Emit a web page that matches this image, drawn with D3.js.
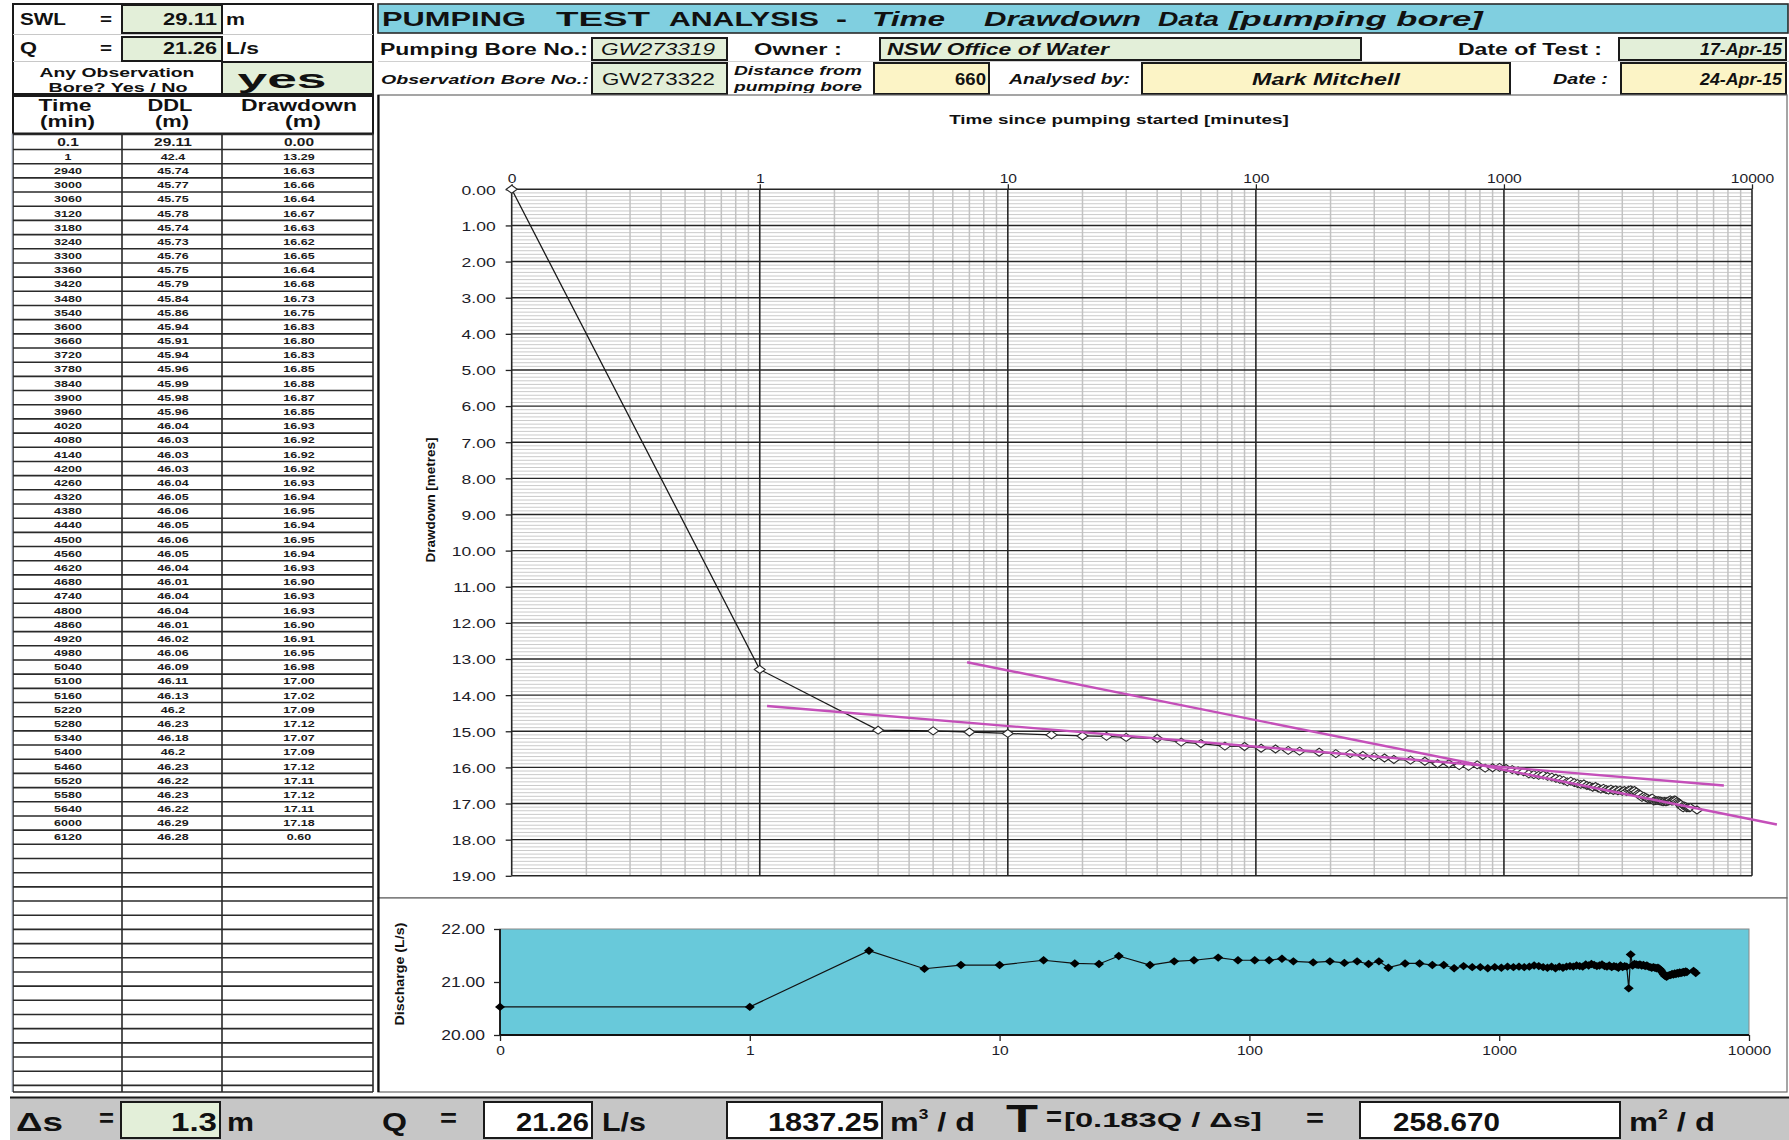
<!DOCTYPE html>
<html>
<head>
<meta charset="utf-8">
<script src="https://cdn.jsdelivr.net/npm/d3@7"></script>
<style>
  html, body { margin: 0; padding: 0; background: #fff; }
  svg { display: block; }
</style>
</head>
<body>
<svg id="sheet" width="1789" height="1140"></svg>
<script>
// ---------------- data ----------------
// Visible rows of the readings table
const tableTime = [0.1, 1, 2940, 3000, 3060, 3120, 3180, 3240, 3300, 3360, 3420, 3480, 3540, 3600, 3660, 3720, 3780, 3840, 3900, 3960, 4020, 4080, 4140, 4200, 4260, 4320, 4380, 4440, 4500, 4560, 4620, 4680, 4740, 4800, 4860, 4920, 4980, 5040, 5100, 5160, 5220, 5280, 5340, 5400, 5460, 5520, 5580, 5640, 6000, 6120];
const tableDDL = [29.11, 42.4, 45.74, 45.77, 45.75, 45.78, 45.74, 45.73, 45.76, 45.75, 45.79, 45.84, 45.86, 45.94, 45.91, 45.94, 45.96, 45.99, 45.98, 45.96, 46.04, 46.03, 46.03, 46.03, 46.04, 46.05, 46.06, 46.05, 46.06, 46.05, 46.04, 46.01, 46.04, 46.04, 46.01, 46.02, 46.06, 46.09, 46.11, 46.13, 46.2, 46.23, 46.18, 46.2, 46.23, 46.22, 46.23, 46.22, 46.29, 46.28];
const tableDrawdown = [0.00, 13.29, 16.63, 16.66, 16.64, 16.67, 16.63, 16.62, 16.65, 16.64, 16.68, 16.73, 16.75, 16.83, 16.80, 16.83, 16.85, 16.88, 16.87, 16.85, 16.93, 16.92, 16.92, 16.92, 16.93, 16.94, 16.95, 16.94, 16.95, 16.94, 16.93, 16.90, 16.93, 16.93, 16.90, 16.91, 16.95, 16.98, 17.00, 17.02, 17.09, 17.12, 17.07, 17.09, 17.12, 17.11, 17.12, 17.11, 17.18, 0.60];

// Readings between 1 min and 2940 min (rows hidden in the table, still plotted)
const hiddenTime = [3, 5, 7, 10, 15, 20, 25, 30, 40, 50, 60, 75, 90, 105, 120, 135, 150, 180, 210, 240, 270, 300, 330, 360, 420, 480, 540, 600, 660, 720, 780, 840, 900, 960,
  1020, 1080, 1140, 1200, 1260, 1320, 1380, 1440, 1500, 1560, 1620, 1680, 1740, 1800, 1860, 1920, 1980, 2040, 2100, 2160, 2220, 2280, 2340, 2400, 2460, 2520, 2580, 2640, 2700, 2760, 2820, 2880];
const hiddenDrawdown = [14.97, 14.99, 15.02, 15.06, 15.10, 15.13, 15.14, 15.17, 15.20, 15.30, 15.34, 15.41, 15.42, 15.47, 15.49, 15.53, 15.55, 15.58, 15.62, 15.62, 15.67, 15.71, 15.74, 15.78, 15.80, 15.83, 15.90, 15.90, 15.95, 15.97, 15.93, 16.02, 16.01, 16.00,
  16.03, 16.06, 16.10, 16.12, 16.18, 16.20, 16.22, 16.21, 16.25, 16.27, 16.30, 16.33, 16.36, 16.40, 16.38, 16.42, 16.45, 16.47, 16.46, 16.50, 16.52, 16.55, 16.53, 16.57, 16.60, 16.58, 16.61, 16.63, 16.60, 16.64, 16.62, 16.65];

// Discharge (L/s) for every reading, in time order
const discharge = [20.53, 20.53,
  21.59, 21.25, 21.32, 21.32, 21.41, 21.35, 21.34, 21.49, 21.32, 21.39, 21.41, 21.46, 21.41, 21.41, 21.41, 21.44, 21.39, 21.37, 21.39, 21.36, 21.39, 21.34, 21.39, 21.27, 21.35, 21.35, 21.32, 21.32, 21.26, 21.30, 21.28, 21.28, 21.26, 21.28,
  21.27, 21.29, 21.28, 21.29, 21.28, 21.29, 21.31, 21.30, 21.28, 21.27, 21.29, 21.26, 21.29, 21.27, 21.29, 21.30, 21.29, 21.31, 21.30, 21.29, 21.33, 21.31, 21.34, 21.32, 21.30, 21.31, 21.33, 21.30, 21.29, 21.31, 21.28, 21.30,
  21.29, 21.27, 21.31, 21.28, 21.30, 21.29, 20.88, 21.52, 21.31, 21.34, 21.33, 21.32, 21.33, 21.31, 21.32, 21.30, 21.31, 21.29, 21.28, 21.27, 21.28, 21.27, 21.26, 21.27, 21.25, 21.22, 21.18, 21.14, 21.11, 21.10, 21.12, 21.13, 21.13, 21.15, 21.14, 21.16, 21.15, 21.17, 21.16, 21.18, 21.17, 21.18, 21.19, 21.18, 21.20, 21.19, 21.21, 21.17];

// Straight-line fits drawn on the semi-log plot (time in min, drawdown in m)
const fitEarlyTime = [1.07, 7700];
const fitEarlyDrawdown = [14.30, 16.50];
const fitLateTime = [6.85, 12600];
const fitLateDrawdown = [13.09, 17.58];

// Axis ticks
const timeTicks = [0.1, 1, 10, 100, 1000, 10000];
const timeTickLabels = ["0", "1", "10", "100", "1000", "10000"];
const drawdownTicks = d3.range(0, 20);
const dischargeTicks = [20, 21, 22];

// Header / summary values
const swl = "29.11";
const pumpQ = "21.26";
const obsBore = "yes";
const pumpingBoreNo = "GW273319";
const observationBoreNo = "GW273322";
const owner = "NSW Office of Water";
const testDate = "17-Apr-15";
const distance = "660";
const analyst = "Mark Mitchell";
const analysisDate = "24-Apr-15";
const deltaS = "1.3";
const qDaily = "1837.25";
const transmissivity = "258.670";

// ---------------- helpers ----------------
const FONT = "'Liberation Sans', Arial, Helvetica, sans-serif";
const svg = d3.select("#sheet");
const defs = svg.append("defs");

function txt(parent, str, x, y, o = {}) {
  const g = parent.append("g")
    .attr("transform", `translate(${x},${y})` + (o.rotate ? ` rotate(${o.rotate})` : ""));
  if (o.clip) g.attr("clip-path", o.clip);
  const t = g.append("text")
    .attr("font-family", FONT)
    .attr("font-size", o.size || 14)
    .attr("font-weight", o.weight || "normal")
    .attr("font-style", o.style || "normal")
    .attr("text-anchor", o.anchor || "start")
    .attr("fill", o.fill || "#111")
    .text(str);
  let sx = o.sx || 1;
  if (o.width) {
    const w = t.node().getComputedTextLength();
    if (w > 0) sx = o.width / w;
  }
  t.attr("transform", `scale(${sx},1)`);
  return t;
}

function box(parent, x, y, w, h, fill, stroke = "#1a1a1a", sw = 2) {
  return parent.append("rect").attr("x", x).attr("y", y).attr("width", w).attr("height", h)
    .attr("fill", fill).attr("stroke", stroke).attr("stroke-width", sw);
}

function hline(parent, x1, x2, y, stroke, sw) {
  parent.append("line").attr("x1", x1).attr("x2", x2).attr("y1", y).attr("y2", y)
    .attr("stroke", stroke).attr("stroke-width", sw);
}
function vline(parent, x, y1, y2, stroke, sw) {
  parent.append("line").attr("x1", x).attr("x2", x).attr("y1", y1).attr("y2", y2)
    .attr("stroke", stroke).attr("stroke-width", sw);
}

const GREEN = "#e3efd9";
const YELLOW = "#fcf4c6";

svg.append("rect").attr("width", 1789).attr("height", 1140).attr("fill", "#fff");

// ---------------- top-left block ----------------
const tl = svg.append("g");
box(tl, 13, 4, 360, 90, "#fff", "#1a1a1a", 2);
hline(tl, 13, 373, 34.5, "#c8c8c8", 1);
hline(tl, 13, 122, 61.5, "#c8c8c8", 1);
box(tl, 122, 5, 100, 28, GREEN);
box(tl, 122, 37, 100, 24, GREEN);
box(tl, 222, 62, 151, 32, GREEN);

txt(tl, "SWL", 20, 25, { size: 16, weight: "bold", width: 46 });
txt(tl, "=", 100, 25, { size: 16, weight: "bold", width: 12 });
txt(tl, swl, 217, 25, { size: 16, weight: "bold", anchor: "end", width: 54 });
txt(tl, "m", 226, 25, { size: 16, weight: "bold", width: 19 });
txt(tl, "Q", 20, 54, { size: 16, weight: "bold", width: 17 });
txt(tl, "=", 100, 54, { size: 16, weight: "bold", width: 12 });
txt(tl, pumpQ, 217, 54, { size: 16, weight: "bold", anchor: "end", width: 54 });
txt(tl, "L/s", 226, 54, { size: 16, weight: "bold", width: 33 });

defs.append("clipPath").attr("id", "clipObs").append("rect")
  .attr("x", -100).attr("y", -20).attr("width", 200).attr("height", 21.5);
txt(tl, "Any Observation", 117, 77, { size: 13, weight: "bold", anchor: "middle", width: 155 });
txt(tl, "Bore? Yes / No", 118, 92, { size: 13, weight: "bold", anchor: "middle", width: 139, clip: "url(#clipObs)" });
txt(tl, obsBore, 282, 88, { size: 26, weight: "bold", anchor: "middle", width: 89 });

// ---------------- readings table ----------------
const tb = svg.append("g");
const colX = [13, 122, 222, 373];
const tableTop = 96, headBottom = 133.5, row0H = 15, rowH = 14.18, tableBottom = 1092;
box(tb, 13, tableTop, 360, headBottom - tableTop, "#fff", "#1a1a1a", 2);
txt(tb, "Time", 65, 111, { size: 16, weight: "bold", anchor: "middle", width: 53 });
txt(tb, "(min)", 67.5, 127, { size: 16, weight: "bold", anchor: "middle", width: 55 });
txt(tb, "DDL", 170, 111, { size: 16, weight: "bold", anchor: "middle", width: 45 });
txt(tb, "(m)", 172, 127, { size: 16, weight: "bold", anchor: "middle", width: 34 });
txt(tb, "Drawdown", 299, 111, { size: 16, weight: "bold", anchor: "middle", width: 116 });
txt(tb, "(m)", 303, 127, { size: 16, weight: "bold", anchor: "middle", width: 36 });

const rowTop = i => i === 0 ? headBottom + 1 : headBottom + 1 + row0H + (i - 1) * rowH;
const rowHeight = i => i === 0 ? row0H : rowH;
// horizontal rules, data rows and the blank rows below
let nRows = 0;
while (rowTop(nRows + 1) <= tableBottom) nRows++;
for (let i = 0; i <= nRows; i++) hline(tb, 13, 373, rowTop(i), "#2a2a2a", 1.6);
hline(tb, 13, 373, tableBottom, "#2a2a2a", 1.6);
colX.forEach(x => vline(tb, x, headBottom, tableBottom, "#2a2a2a", 1.6));
vline(tb, 12, headBottom, tableBottom, "#b8c4d8", 1);

const colCenter = [68, 173, 299];
tableTime.forEach((t, i) => {
  const big = i === 0;
  const y = rowTop(i) + rowHeight(i) / 2 + (big ? 3.6 : 3.2);
  const o = { size: big ? 10 : 8.8, weight: "bold", anchor: "middle", sx: big ? 1.55 : 1.42, fill: "#1a1a1a" };
  txt(tb, String(t), colCenter[0], y, o);
  txt(tb, String(tableDDL[i]), colCenter[1], y, o);
  txt(tb, tableDrawdown[i].toFixed(2), colCenter[2], y, o);
});

// ---------------- title + header rows ----------------
const hd = svg.append("g");
hd.append("rect").attr("x", 378).attr("y", 36).attr("width", 1411).attr("height", 59).attr("fill", "#fff");
hline(hd, 378, 1789, 61.5, "#d0d0d0", 1);
box(hd, 378, 4, 1410, 29, "#80cfe0", "#2a2a2a", 1.6);
const titleParts = [
  ["PUMPING", 382, 144, "bold", "normal"], ["TEST", 556, 94, "bold", "normal"],
  ["ANALYSIS", 669, 150, "bold", "normal"], ["-", 836, 11, "bold", "normal"],
  ["Time", 872, 73, "bold", "italic"], ["Drawdown", 984, 157, "bold", "italic"],
  ["Data", 1158, 61, "bold", "italic"], ["[pumping bore]", 1229, 254, "bold", "italic"]
];
titleParts.forEach(([s, x, w, wt, st]) => txt(hd, s, x, 25.5, { size: 21, weight: wt, style: st, width: w }));

// row 2
box(hd, 592, 38, 135, 22, GREEN);
box(hd, 880, 38, 481, 22, GREEN);
box(hd, 1619, 38, 167, 22, GREEN);
txt(hd, "Pumping Bore No.:", 380, 54.5, { size: 16, weight: "bold", width: 208 });
txt(hd, pumpingBoreNo, 601, 54.5, { size: 16, style: "italic", width: 114 });
txt(hd, "Owner :", 754, 54.5, { size: 16, weight: "bold", width: 88 });
txt(hd, owner, 887, 54.5, { size: 16, weight: "bold", style: "italic", width: 222 });
txt(hd, "Date of Test :", 1458, 54.5, { size: 16, weight: "bold", width: 144 });
txt(hd, testDate, 1782, 54.5, { size: 16, weight: "bold", style: "italic", anchor: "end", width: 82 });

// row 3
box(hd, 592, 63, 135, 31, GREEN);
box(hd, 874, 63, 115, 31, YELLOW);
box(hd, 1142, 63, 368, 31, YELLOW);
box(hd, 1621, 63, 165, 31, YELLOW);
txt(hd, "Observation Bore No.:", 381, 83.5, { size: 13, weight: "bold", style: "italic", width: 208 });
txt(hd, observationBoreNo, 602, 84.5, { size: 17, width: 113 });
defs.append("clipPath").attr("id", "clipDist").append("rect")
  .attr("x", -5).attr("y", -20).attr("width", 150).attr("height", 22);
txt(hd, "Distance from", 734, 75, { size: 13, weight: "bold", style: "italic", width: 128 });
txt(hd, "pumping bore", 734, 91, { size: 13, weight: "bold", style: "italic", width: 128, clip: "url(#clipDist)" });
txt(hd, distance, 986, 84.5, { size: 16, weight: "bold", anchor: "end", width: 31 });
txt(hd, "Analysed by:", 1009, 83.5, { size: 14, weight: "bold", style: "italic", width: 121 });
txt(hd, analyst, 1326, 84.5, { size: 16, weight: "bold", style: "italic", anchor: "middle", width: 148 });
txt(hd, "Date :", 1553, 83.5, { size: 14, weight: "bold", style: "italic", width: 55 });
txt(hd, analysisDate, 1782, 84.5, { size: 16, weight: "bold", style: "italic", anchor: "end", width: 82 });

// ---------------- chart panels ----------------
const panels = svg.append("g");
box(panels, 378, 95, 1409, 803, "#fff", "#6a6a6a", 1.2);
box(panels, 378, 898, 1409, 194, "#fff", "#6a6a6a", 1.2);
vline(panels, 378.5, 95, 1092, "#111", 2.2);

// ---------------- drawdown vs time (semi-log) ----------------
const mx = d3.scaleLog().domain([0.1, 10000]).range([511.7, 1752]);
const my = d3.scaleLinear().domain([0, 19]).range([189.3, 875.8]);
const main = svg.append("g");

const minorTimes = [];
[-1, 0, 1, 2, 3].forEach(n => { for (let k = 2; k <= 9; k++) minorTimes.push(+(k * Math.pow(10, n)).toPrecision(3)); });
const minorDepths = d3.range(0, 190).filter(i => i % 10 !== 0).map(i => i / 10);

main.append("g").selectAll("line").data(minorDepths).join("line")
  .attr("x1", mx(0.1)).attr("x2", mx(10000)).attr("y1", d => my(d)).attr("y2", d => my(d))
  .attr("stroke", "#cacaca").attr("stroke-width", 1);
main.append("g").selectAll("line").data(minorTimes).join("line")
  .attr("x1", d => mx(d)).attr("x2", d => mx(d)).attr("y1", my(0)).attr("y2", my(19))
  .attr("stroke", "#c2c2c2").attr("stroke-width", 1.5);
main.append("g").selectAll("line").data(drawdownTicks).join("line")
  .attr("x1", mx(0.1)).attr("x2", mx(10000)).attr("y1", d => my(d)).attr("y2", d => my(d))
  .attr("stroke", "#262626").attr("stroke-width", 1.4);
main.append("g").selectAll("line").data(timeTicks).join("line")
  .attr("x1", d => mx(d)).attr("x2", d => mx(d)).attr("y1", my(0)).attr("y2", my(19))
  .attr("stroke", "#262626").attr("stroke-width", 1.6);

function styleAxis(sel, size, sx) {
  sel.select(".domain").remove();
  sel.selectAll(".tick line").attr("stroke", "#222").attr("stroke-width", 1.3);
  sel.selectAll("text")
    .attr("font-family", FONT).attr("font-size", size).attr("fill", "#1c1c28")
    .each(function () {
      const x = +(this.getAttribute("x") || 0);
      d3.select(this).attr("x", x / sx).attr("transform", `scale(${sx},1)`);
    });
}

const fmtTime = d => timeTickLabels[timeTicks.indexOf(d)];
main.append("g").attr("transform", `translate(0,${my(0)})`)
  .call(d3.axisTop(mx).tickValues(timeTicks).tickFormat(fmtTime).tickSize(5).tickPadding(6))
  .call(s => styleAxis(s, 12.5, 1.25));
main.append("g").attr("transform", `translate(${mx(0.1)},0)`)
  .call(d3.axisLeft(my).tickValues(drawdownTicks).tickFormat(d3.format(".2f")).tickSize(6).tickPadding(10))
  .call(s => styleAxis(s, 13.5, 1.3));
main.selectAll(".tick text").attr("dy", "0.36em");

txt(main, "Time since pumping started [minutes]", 1119, 124, { size: 13, weight: "bold", anchor: "middle", width: 340 });
txt(main, "Drawdown [metres]", 435, 500, { size: 13, weight: "bold", anchor: "middle", rotate: -90, width: 125 });

// observed drawdown (the final 6120-min row is not plotted)
const seriesTime = [tableTime[0], tableTime[1], ...hiddenTime, ...tableTime.slice(2)];
const seriesDrawdown = [tableDrawdown[0], tableDrawdown[1], ...hiddenDrawdown, ...tableDrawdown.slice(2)];
const ddPoints = seriesTime.map((t, i) => ({ t, d: seriesDrawdown[i] })).slice(0, -1);

main.append("path").datum(ddPoints)
  .attr("d", d3.line().x(p => mx(p.t)).y(p => my(p.d)))
  .attr("fill", "none").attr("stroke", "#1a1a1a").attr("stroke-width", 1.3);

const diamond = (w, h) => `M0,${-h}L${w},0L0,${h}L${-w},0Z`;
main.append("g").selectAll("path").data(ddPoints).join("path")
  .attr("transform", p => `translate(${mx(p.t)},${my(p.d)})`)
  .attr("d", diamond(5.5, 4))
  .attr("fill", "#fff").attr("stroke", "#2a2a2a").attr("stroke-width", 1.1);

// fitted straight lines
[[fitEarlyTime, fitEarlyDrawdown], [fitLateTime, fitLateDrawdown]].forEach(([ts, ds]) => {
  main.append("path").datum(ts.map((t, i) => ({ t, d: ds[i] })))
    .attr("d", d3.line().x(p => mx(p.t)).y(p => my(p.d)))
    .attr("fill", "none").attr("stroke", "#c44fb9").attr("stroke-width", 2.4);
});

// ---------------- discharge vs time ----------------
const qx = d3.scaleLog().domain([0.1, 10000]).range([500, 1749]);
const qy = d3.scaleLinear().domain([20, 22]).range([1035, 929]);
const dq = svg.append("g");
dq.append("rect").attr("x", qx(0.1)).attr("y", qy(22)).attr("width", qx(10000) - qx(0.1)).attr("height", qy(20) - qy(22))
  .attr("fill", "#68c9da").attr("stroke", "#8a8a8a").attr("stroke-width", 1);
hline(dq, qx(0.1), qx(10000), qy(20), "#111", 2);
vline(dq, qx(0.1), qy(22), qy(20), "#111", 1.8);

dq.append("g").attr("transform", `translate(0,${qy(20)})`)
  .call(d3.axisBottom(qx).tickValues(timeTicks).tickFormat(fmtTime).tickSize(6).tickPadding(5))
  .call(s => styleAxis(s, 13, 1.2));
dq.append("g").attr("transform", `translate(${qx(0.1)},0)`)
  .call(d3.axisLeft(qy).tickValues(dischargeTicks).tickFormat(d3.format(".2f")).tickSize(6).tickPadding(9))
  .call(s => styleAxis(s, 14, 1.25));

txt(dq, "Discharge (L/s)", 404, 974, { size: 13, weight: "bold", anchor: "middle", rotate: -90, width: 103 });

const qPoints = seriesTime.map((t, i) => ({ t, q: discharge[i] }));
dq.append("path").datum(qPoints)
  .attr("d", d3.line().x(p => qx(p.t)).y(p => qy(p.q)))
  .attr("fill", "none").attr("stroke", "#111").attr("stroke-width", 1.2);
dq.append("g").selectAll("path").data(qPoints).join("path")
  .attr("transform", p => `translate(${qx(p.t)},${qy(p.q)})`)
  .attr("d", diamond(5, 4.2))
  .attr("fill", "#000");

// ---------------- summary bar ----------------
const sb = svg.append("g");
sb.append("rect").attr("x", 10).attr("y", 1097).attr("width", 1779).attr("height", 43).attr("fill", "#c6c6c6");
hline(sb, 10, 1789, 1097.5, "#1a1a1a", 2);
box(sb, 121, 1102, 99, 36, GREEN);
box(sb, 484, 1102, 108, 36, "#fff");
box(sb, 727, 1102, 155, 36, "#fff");
box(sb, 1360, 1102, 260, 36, "#fff");

const by = 1131;
const BS = 26;
txt(sb, "Δs", 16, by, { size: BS, weight: "bold", width: 47 });
txt(sb, "=", 99, by - 4, { size: BS, weight: "bold", width: 15 });
txt(sb, deltaS, 217, by, { size: BS, weight: "bold", anchor: "end", width: 46 });
txt(sb, "m", 227, by, { size: BS, weight: "bold", width: 27 });
txt(sb, "Q", 382, by, { size: BS, weight: "bold", width: 25 });
txt(sb, "=", 440, by - 4, { size: BS, weight: "bold", width: 17 });
txt(sb, pumpQ, 589, by, { size: BS, weight: "bold", anchor: "end", width: 73 });
txt(sb, "L/s", 602, by, { size: BS, weight: "bold", width: 44 });
txt(sb, qDaily, 879, by, { size: BS, weight: "bold", anchor: "end", width: 111 });

function unitText(x, sup, w) {
  const g = sb.append("g").attr("transform", `translate(${x},${by})`);
  const t = g.append("text").attr("font-family", FONT).attr("font-size", BS).attr("font-weight", "bold").attr("fill", "#111");
  t.append("tspan").text("m");
  t.append("tspan").attr("font-size", 14).attr("dy", -12).text(sup);
  t.append("tspan").attr("dy", 12).text(" / d");
  const nat = t.node().getComputedTextLength();
  t.attr("transform", `scale(${w / nat},1)`);
}
unitText(890, "3", 85);
txt(sb, "T", 1006, by + 1, { size: 38, weight: "bold", width: 32 });
txt(sb, "=", 1046, by - 5, { size: 28, weight: "bold", width: 16 });
txt(sb, "[0.183Q / Δs]", 1064, by - 4, { size: 20, weight: "bold", width: 198 });
txt(sb, "=", 1306, by - 4, { size: BS, weight: "bold", width: 18 });
txt(sb, transmissivity, 1393, by, { size: BS, weight: "bold", width: 107 });
unitText(1629, "2", 86);
</script>
</body>
</html>
